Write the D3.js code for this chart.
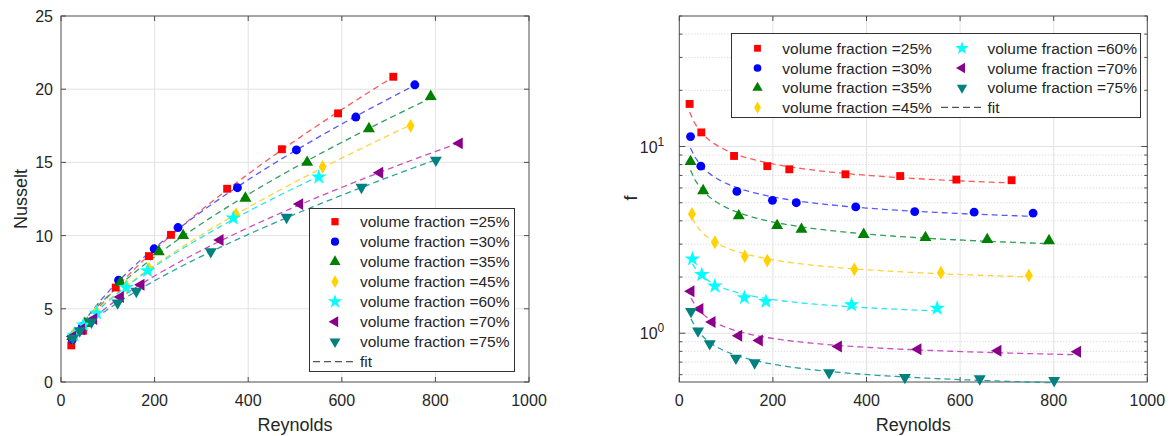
<!DOCTYPE html>
<html>
<head>
<meta charset="utf-8">
<script src="https://cdn.jsdelivr.net/npm/d3@7"></script>
<style>
  html, body { margin: 0; padding: 0; background: #fff; }
  svg { display: block; font-family: "Liberation Sans", Arial, sans-serif; }
</style>
</head>
<body>
<svg id="chart" width="1172" height="436"></svg>
<script>
// Series labels (volume fraction)
const fractions = ["25%", "30%", "35%", "45%", "60%", "70%", "75%"];

// Reynolds numbers per series
const re25 = [22, 47, 117, 188, 235, 355, 472, 592, 710];
const re30 = [24, 46, 123, 199, 250, 377, 503, 630, 756];
const re35 = [24, 51, 127, 209, 261, 394, 526, 658, 790];
const re45 = [27, 76, 140, 188, 374, 559, 747];
const re60 = [28, 48, 76, 139, 185, 368, 551];
const re70 = [25, 44, 70, 127, 171, 340, 510, 681, 851];
const re75 = [25, 40, 65, 121, 161, 320, 482, 642, 801];

// Nusselt numbers per series
const nu25 = [2.5, 3.5, 6.45, 8.6, 10.05, 13.2, 15.9, 18.35, 20.85];
const nu30 = [2.9, 3.8, 6.95, 9.1, 10.55, 13.27, 15.85, 18.1, 20.3];
const nu35 = [3.1, 4.0, 6.8, 8.9, 10.0, 12.55, 15.0, 17.3, 19.5];
const nu45 = [3.25, 4.8, 6.55, 7.75, 11.45, 14.7, 17.5];
const nu60 = [3.2, 3.9, 4.7, 6.45, 7.6, 11.2, 14.0];
const nu70 = [3.1, 3.6, 4.3, 5.8, 6.65, 9.7, 12.15, 14.3, 16.3];
const nu75 = [3.0, 3.5, 4.1, 5.4, 6.2, 8.9, 11.25, 13.3, 15.15];

// Friction factors per series
const f25 = [16.9, 11.9, 8.9, 7.85, 7.55, 7.1, 6.95, 6.65, 6.6];
const f30 = [11.3, 7.85, 5.75, 5.15, 5.0, 4.75, 4.48, 4.45, 4.4];
const f35 = [8.3, 5.8, 4.25, 3.77, 3.6, 3.38, 3.25, 3.17, 3.13];
const f45 = [4.35, 3.07, 2.58, 2.45, 2.2, 2.11, 2.04];
const f60 = [2.5, 2.06, 1.79, 1.55, 1.48, 1.42, 1.36];
const f70 = [1.68, 1.35, 1.15, 0.97, 0.915, 0.85, 0.82, 0.805, 0.795];
const f75 = [1.31, 1.03, 0.88, 0.735, 0.695, 0.615, 0.58, 0.57, 0.558];

// Tick values
const xTicks = [0, 200, 400, 600, 800, 1000];
const nuTicks = [0, 5, 10, 15, 20, 25];
const fTicks = [1, 10];
const fMinorTicks = [0.6, 0.7, 0.8, 0.9, 2, 3, 4, 5, 6, 7, 8, 9, 20, 30, 40, 50];

const reSets = [re25, re30, re35, re45, re60, re70, re75];
const nuSets = [nu25, nu30, nu35, nu45, nu60, nu70, nu75];
const fSets = [f25, f30, f35, f45, f60, f70, f75];

const markerColors = ["#ff0000", "#0000ff", "#008000", "#ffd200", "#00ffff", "#8b008b", "#008080"];
const fitColors = ["#ff5a5a", "#5a5aff", "#2ea05a", "#ffd23c", "#28e6f0", "#c850c0", "#2aa0a0"];
const symbolTypes = [d3.symbolSquare, d3.symbolCircle, d3.symbolTriangle, d3.symbolDiamond, d3.symbolStar, d3.symbolTriangle, d3.symbolTriangle];
const symbolSizes = [62, 62, 62, 55, 75, 62, 62];
const symbolRotations = [0, 0, 0, 0, 0, -90, 180];

const svg = d3.select("#chart");
const textColor = "#262626";
const axisColor = "#4d4d4d";

function marker(sel, i, scale) {
  const k = scale || 1;
  sel.attr("d", d3.symbol().type(symbolTypes[i]).size(symbolSizes[i] * k)())
     .attr("fill", markerColors[i]);
}
function markerTransform(x, y, i) {
  return `translate(${x},${y}) rotate(${symbolRotations[i]})`;
}

// Weighted linear least squares for y = c + k * t
function linearFit(t, ys, w) {
  const sw = d3.sum(w);
  const mt = d3.sum(t, (v, j) => v * w[j]) / sw;
  const my = d3.sum(ys, (v, j) => v * w[j]) / sw;
  let sty = 0, stt = 0;
  t.forEach((v, j) => { sty += w[j] * (v - mt) * (ys[j] - my); stt += w[j] * (v - mt) ** 2; });
  const k = sty / stt;
  return { k, c: my - k * mt };
}

// Nusselt correlation: Nu = c + k * Re^p, exponent scanned
function nusseltFit(xs, ys) {
  let best = null;
  const w = xs.map(() => 1);
  for (let p = 0.2; p <= 1.2; p += 0.01) {
    const t = xs.map(x => Math.pow(x, p));
    const { k, c } = linearFit(t, ys, w);
    const sse = d3.sum(t, (v, j) => (c + k * v - ys[j]) ** 2);
    if (!best || sse < best.sse) best = { sse, k, c, p };
  }
  return x => best.c + best.k * Math.pow(x, best.p);
}

// Friction correlation: f = c + k / sqrt(Re), relative-error weighting
function frictionFit(xs, ys) {
  const t = xs.map(x => 1 / Math.sqrt(x));
  const { k, c } = linearFit(t, ys, ys.map(y => 1 / (y * y * y)));
  return x => c + k / Math.sqrt(x);
}

function xAxisParts(g, x, top, bottom) {
  xTicks.forEach(t => {
    const px = x(t);
    if (t > 0 && t < 1000) {
      g.append("line").attr("x1", px).attr("x2", px).attr("y1", top).attr("y2", bottom)
        .attr("stroke", "#e3e3e3").attr("stroke-width", 1);
    }
    g.append("line").attr("x1", px).attr("x2", px).attr("y1", bottom).attr("y2", bottom - 5)
      .attr("stroke", axisColor);
    g.append("line").attr("x1", px).attr("x2", px).attr("y1", top).attr("y2", top + 5)
      .attr("stroke", axisColor);
    g.append("text").attr("x", px).attr("y", bottom + 24).attr("text-anchor", "middle")
      .attr("font-size", 16).attr("fill", textColor).text(d3.format("d")(t));
  });
}

function frame(g, L, R, T, B) {
  g.append("rect").attr("x", L).attr("y", T).attr("width", R - L).attr("height", B - T)
    .attr("fill", "none").attr("stroke", axisColor).attr("stroke-width", 1);
}

function drawFits(g, x, y, fitter, ySets) {
  reSets.forEach((res, i) => {
    const fit = fitter(res, ySets[i]);
    const lo = d3.min(res), hi = d3.max(res);
    const pts = d3.range(0, 81).map(j => lo + (hi - lo) * j / 80);
    g.append("path").attr("d", d3.line().x(r => x(r)).y(r => y(fit(r)))(pts))
      .attr("fill", "none").attr("stroke", fitColors[i]).attr("stroke-width", 1.3)
      .attr("stroke-dasharray", "6,4");
  });
}

function drawMarkers(g, x, y, ySets) {
  reSets.forEach((res, i) => {
    g.append("g").selectAll("path").data(res).join("path")
      .each(function () { marker(d3.select(this), i); })
      .attr("transform", (r, j) => markerTransform(x(r), y(ySets[i][j]), i));
  });
}

// ---------- Left panel: Nusselt vs Reynolds ----------
(function () {
  const L = 61, R = 529, T = 16, B = 382;
  const x = d3.scaleLinear().domain([0, 1000]).range([L, R]);
  const y = d3.scaleLinear().domain([0, 25]).range([B, T]);
  const g = svg.append("g");

  nuTicks.forEach(t => {
    const py = y(t);
    if (t > 0 && t < 25) {
      g.append("line").attr("x1", L).attr("x2", R).attr("y1", py).attr("y2", py).attr("stroke", "#e3e3e3");
    }
    g.append("line").attr("x1", L).attr("x2", L + 5).attr("y1", py).attr("y2", py).attr("stroke", axisColor);
    g.append("line").attr("x1", R).attr("x2", R - 5).attr("y1", py).attr("y2", py).attr("stroke", axisColor);
    g.append("text").attr("x", L - 8).attr("y", py + 6).attr("text-anchor", "end")
      .attr("font-size", 16).attr("fill", textColor).text(t);
  });
  xAxisParts(g, x, T, B);
  frame(g, L, R, T, B);
  drawFits(g, x, y, nusseltFit, nuSets);
  drawMarkers(g, x, y, nuSets);

  g.append("text").attr("x", (L + R) / 2).attr("y", B + 49).attr("text-anchor", "middle")
    .attr("font-size", 18).attr("fill", textColor).text("Reynolds");
  g.append("text").attr("transform", "translate(27,199) rotate(-90)")
    .attr("text-anchor", "middle").attr("font-size", 18).attr("fill", textColor).text("Nusselt");

  // legend
  const lg = g.append("g");
  lg.append("rect").attr("x", 309.5).attr("y", 208.5).attr("width", 205).attr("height", 163)
    .attr("fill", "#fff").attr("stroke", "#333").attr("stroke-width", 1);
  fractions.forEach((fr, i) => {
    const yy = 221.7 + i * 20;
    lg.append("path").each(function () { marker(d3.select(this), i, 0.85); })
      .attr("transform", markerTransform(335, yy, i));
    lg.append("text").attr("x", 360).attr("y", yy + 5.5).attr("font-size", 15.5)
      .attr("fill", textColor).text(`volume fraction =${fr}`);
  });
  const fy = 221.7 + 7 * 20;
  lg.append("line").attr("x1", 313).attr("x2", 353).attr("y1", fy).attr("y2", fy)
    .attr("stroke", "#555").attr("stroke-width", 1.3).attr("stroke-dasharray", "7,4");
  lg.append("text").attr("x", 360).attr("y", fy + 5.5).attr("font-size", 15.5)
    .attr("fill", textColor).text("fit");
})();

// ---------- Right panel: friction factor vs Reynolds (log y) ----------
(function () {
  const L = 679.3, R = 1147.3, T = 16, B = 382;
  const x = d3.scaleLinear().domain([0, 1000]).range([L, R]);
  const y = d3.scaleLog().domain([0.548, 50]).range([B, T]);
  const g = svg.append("g");

  fMinorTicks.forEach(t => {
    const py = y(t);
    if (t < 50) {
      g.append("line").attr("x1", L).attr("x2", R).attr("y1", py).attr("y2", py)
        .attr("stroke", "#cfcfcf").attr("stroke-dasharray", "1,2");
    }
    g.append("line").attr("x1", L).attr("x2", L + 3).attr("y1", py).attr("y2", py).attr("stroke", axisColor);
    g.append("line").attr("x1", R).attr("x2", R - 3).attr("y1", py).attr("y2", py).attr("stroke", axisColor);
  });
  fTicks.forEach(t => {
    const py = y(t);
    g.append("line").attr("x1", L).attr("x2", R).attr("y1", py).attr("y2", py).attr("stroke", "#e3e3e3");
    g.append("line").attr("x1", L).attr("x2", L + 6).attr("y1", py).attr("y2", py).attr("stroke", axisColor);
    g.append("line").attr("x1", R).attr("x2", R - 6).attr("y1", py).attr("y2", py).attr("stroke", axisColor);
    const lab = g.append("text").attr("x", L - 15).attr("y", py + 6).attr("text-anchor", "end")
      .attr("font-size", 16).attr("fill", textColor);
    lab.append("tspan").text("10");
    lab.append("tspan").attr("font-size", 12).attr("dy", -7).text(Math.round(Math.log10(t)));
  });
  xAxisParts(g, x, T, B);
  frame(g, L, R, T, B);
  drawFits(g, x, y, frictionFit, fSets);
  drawMarkers(g, x, y, fSets);

  g.append("text").attr("x", (L + R) / 2).attr("y", B + 49).attr("text-anchor", "middle")
    .attr("font-size", 18).attr("fill", textColor).text("Reynolds");
  g.append("text").attr("transform", "translate(637,198) rotate(-90)")
    .attr("text-anchor", "middle").attr("font-size", 18).attr("fill", textColor).text("f");

  // legend (two columns)
  const lg = g.append("g");
  lg.append("rect").attr("x", 731.5).attr("y", 33.5).attr("width", 409).attr("height", 84)
    .attr("fill", "#fff").attr("stroke", "#333").attr("stroke-width", 1);
  const rowY = j => 48.3 + j * 19.7;
  fractions.forEach((fr, i) => {
    const col = i < 4 ? 0 : 1, row = i < 4 ? i : i - 4;
    const mx = col === 0 ? 757.5 : 962, tx = col === 0 ? 782.3 : 987.5;
    lg.append("path").each(function () { marker(d3.select(this), i, 0.75); })
      .attr("transform", markerTransform(mx, rowY(row), i));
    lg.append("text").attr("x", tx).attr("y", rowY(row) + 5.5).attr("font-size", 15.5)
      .attr("fill", textColor).text(`volume fraction =${fr}`);
  });
  lg.append("line").attr("x1", 941).attr("x2", 981).attr("y1", rowY(3)).attr("y2", rowY(3))
    .attr("stroke", "#555").attr("stroke-width", 1.3).attr("stroke-dasharray", "7,4");
  lg.append("text").attr("x", 987.5).attr("y", rowY(3) + 5.5).attr("font-size", 15.5)
    .attr("fill", textColor).text("fit");
})();
</script>
</body>
</html>
